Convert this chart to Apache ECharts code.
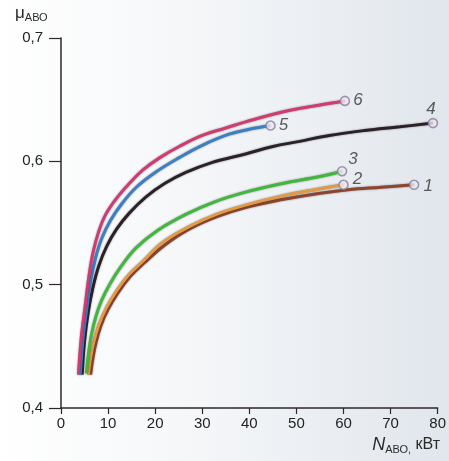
<!DOCTYPE html>
<html><head><meta charset="utf-8">
<script src="https://cdn.jsdelivr.net/npm/echarts@6/dist/echarts.min.js"></script>
<style>html,body{margin:0;padding:0;background:#fff}#c{width:449px;height:461px}</style>
</head><body><div id="c"></div>
<script>
// tick values
const xTicks = [0, 10, 20, 30, 40, 50, 60, 70, 80];
const yTicks = [0.4, 0.5, 0.6, 0.7];
// curve names
const curveNames = ['1', '2', '3', '4', '5', '6'];
// curve data [N, mu]
const curve1 = [[6.3,0.427],[6.8,0.441],[7.5,0.454],[8.5,0.467],[10,0.480],[12.2,0.494],[14.8,0.507],[17.8,0.518],[22,0.532],[27.2,0.545],[33,0.555],[39.2,0.5625],[47,0.569],[54.7,0.574],[61,0.577],[68,0.579],[75,0.581]];
const curve2 = [[5.8,0.427],[6.3,0.441],[7.0,0.454],[8.0,0.467],[9.6,0.481],[11.8,0.495],[14.4,0.508],[17.4,0.519],[21.5,0.534],[27.2,0.547],[33,0.557],[39.2,0.5645],[47,0.572],[54.7,0.5775],[60,0.581]];
const curve3 = [[5.4,0.428],[5.8,0.443],[6.5,0.460],[7.4,0.474],[8.6,0.487],[10.3,0.500],[12.8,0.515],[16,0.530],[20.5,0.544],[26.5,0.557],[32.5,0.567],[39.2,0.575],[47,0.582],[54.7,0.5875],[59.7,0.592]];
const curve4 = [[4.5,0.427],[5.0,0.454],[5.8,0.478],[6.8,0.498],[8.0,0.515],[9.7,0.531],[11.8,0.545],[14.5,0.558],[18,0.571],[22,0.582],[26.5,0.591],[32,0.599],[39.2,0.606],[45,0.612],[50.4,0.616],[57,0.621],[64.5,0.625],[72,0.628],[79,0.631]];
const curve5 = [[4.1,0.427],[4.7,0.457],[5.5,0.481],[6.3,0.503],[7.3,0.521],[8.6,0.537],[10.5,0.552],[13,0.566],[16,0.579],[20,0.591],[25.1,0.603],[30,0.613],[35.7,0.622],[40,0.626],[44.5,0.629]];
const curve6 = [[3.7,0.427],[4.3,0.457],[5.1,0.482],[5.9,0.506],[6.8,0.526],[8.0,0.543],[9.5,0.557],[12,0.571],[14.5,0.582],[17.4,0.593],[21,0.603],[25.1,0.612],[30,0.621],[35,0.627],[39.2,0.632],[47,0.640],[54.7,0.6455],[60.3,0.649]];
const curves = [curve1, curve2, curve3, curve4, curve5, curve6];

const colors = ['#8e4530', '#e39a45', '#3fb83c', '#2b2228', '#3b7fc6', '#d23a70'];
const labelPos = [
  {position:'right', offset:[0,1]},
  {position:'right', offset:[0,-6]},
  {position:'top', offset:[11,6]},
  {position:'top', offset:[-2,4]},
  {position:'right', offset:[-1,0]},
  {position:'right', offset:[-1,-1]}
];

const chart = echarts.init(document.getElementById('c'));
const font = 'Liberation Sans, Arial, sans-serif';

const lineSeries = curves.map((d, i) => ({
  name: curveNames[i],
  type: 'line',
  data: d,
  smooth: 0.4,
  showSymbol: false,
  z: 3 + i,
  lineStyle: {color: colors[i], width: 3, shadowColor: 'rgba(0,0,0,0.45)', shadowBlur: 2},
  silent: true
}));

const endSeries = {
  type: 'scatter',
  z: 20,
  symbol: 'circle',
  symbolSize: 9,
  itemStyle: {color: '#ece8f0', borderColor: '#8a7d9e', borderWidth: 1.6},
  data: curves.map((d, i) => ({
    value: d[d.length - 1],
    label: Object.assign({show: true, formatter: curveNames[i], fontStyle: 'italic', fontSize: 17, color: '#333', fontFamily: font, distance: 4}, labelPos[i])
  }))
};

chart.setOption({
  animation: false,
  backgroundColor: '#ffffff',
  grid: {left: 61, right: 9, top: 38, bottom: 53},
  graphic: [
    {type: 'rect', z: -100, silent: true, shape: {x: 0, y: 0, width: 449, height: 461},
     style: {fill: new echarts.graphic.LinearGradient(0, 0, 1, 0, [
       {offset: 0, color: '#ffffff'}, {offset: 0.45, color: '#f4f6f8'}, {offset: 1, color: '#e1e6ec'}])}},
    {type: 'text', left: 15, top: 5, z: 50,
     style: {text: '{m|μ}{s|АВО}', rich: {
       m: {fontSize: 17, fontFamily: font, fill: '#2a2a2a'},
       s: {fontSize: 11, fontFamily: font, fill: '#2a2a2a', padding: [8, 0, 0, 0]}}}},
    {type: 'text', right: 9, top: 436, z: 50,
     style: {text: '{n|N}{s|АВО,}{u| кВт}', rich: {
       n: {fontSize: 18, fontStyle: 'italic', fontFamily: font, fill: '#2a2a2a'},
       s: {fontSize: 11, fontFamily: font, fill: '#2a2a2a', padding: [10, 0, 0, 0]},
       u: {fontSize: 16, fontFamily: font, fill: '#2a2a2a'}}}}
  ],
  xAxis: {
    type: 'value', min: xTicks[0], max: xTicks[xTicks.length - 1], interval: 10,
    splitLine: {show: false},
    axisLine: {show: true, lineStyle: {color: '#2f272b', width: 1.5}},
    axisTick: {show: true, length: 6, lineStyle: {color: '#2f272b', width: 1.2}},
    axisLabel: {fontSize: 15, color: '#222', fontFamily: font, margin: 8}
  },
  yAxis: {
    type: 'value', min: yTicks[0], max: yTicks[yTicks.length - 1], interval: 0.1,
    splitLine: {show: false},
    axisLine: {show: true, onZero: false, lineStyle: {color: '#2f272b', width: 1.5}},
    axisTick: {show: true, length: 12, lineStyle: {color: '#2f272b', width: 1.2}},
    axisLabel: {fontSize: 15, color: '#222', fontFamily: font, margin: 18,
      formatter: v => v.toFixed(1).replace('.', ',')}
  },
  series: lineSeries.concat([endSeries])
});
</script>
</body></html>
